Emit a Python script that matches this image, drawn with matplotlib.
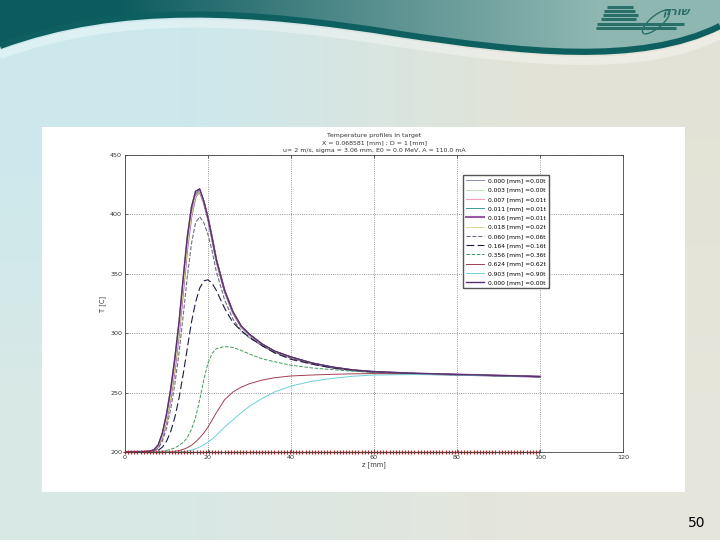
import numpy as np
import matplotlib
matplotlib.use("Agg")
import matplotlib.pyplot as plt
from matplotlib.path import Path
from matplotlib.patches import PathPatch, Rectangle, Ellipse

# ── data ──────────────────────────────────────────────────────────────────────
z = [0, 4, 6, 7, 8, 9, 10, 11, 12, 13, 14, 15, 16, 17, 18, 19, 20, 21, 22,
     24, 26, 28, 30, 33, 36, 40, 45, 50, 55, 60, 70, 80, 90, 100]

T_surf = [200, 200.2, 200.6, 202, 206, 216, 232, 253, 279, 309, 346, 381, 406,
          419.5, 421.5, 411, 397, 380, 362, 336, 318, 306, 299, 291, 285, 280,
          275, 271.5, 269, 267.6, 266.2, 265.3, 264.4, 263.5]
T_shallow = [200, 200.2, 200.5, 201.6, 205, 214, 229, 249, 274, 304, 341, 376,
             402, 417.5, 420.5, 411, 397, 380, 362, 336, 318, 306, 299, 291,
             285, 280, 275, 271.5, 269, 267.5, 266.1, 265.2, 264.3, 263.4]
T_near = [200, 200.2, 200.5, 201.4, 204.5, 213, 227, 246, 270, 300, 336, 372,
          399, 415, 419.5, 410, 396.5, 379.5, 361.5, 335.5, 317.5, 305.5,
          298.5, 290.5, 284.5, 279.5, 274.5, 271, 268.8, 267.4, 266, 265.1,
          264.3, 263.4]
T_060 = [200, 200.1, 200.3, 201, 203, 209, 220, 236, 257, 283, 314, 347, 375,
         393, 398, 393, 383, 369, 352, 328, 312, 302, 296, 289.5, 284, 279,
         274.5, 271, 268.8, 267.4, 266, 265.1, 264.2, 263.4]
T_164 = [200, 200, 200.2, 200.5, 201.5, 204, 209, 217, 229, 245, 265, 287, 309,
         326, 338, 344, 345, 342, 336, 321, 309, 302, 296.5, 289.5, 283.5, 278,
         274, 270.8, 268.7, 267.3, 265.9, 265, 264.2, 263.4]
T_356 = [200, 200, 200, 200.1, 200.3, 200.7, 201.3, 202.2, 203.5, 205.5, 208,
         212, 219, 229, 244, 261, 275, 283, 287, 288.8, 288, 285.5, 282.5,
         278.5, 276, 273, 270.8, 269.3, 268, 267, 265.8, 265, 264.2, 263.4]
T_624 = [200, 200, 200, 200, 200, 200, 200, 200.2, 200.6, 201.2, 202.2, 203.6,
         205.6, 208.5, 212, 216, 221, 227, 233, 244, 250.5, 254.5, 257.5,
         260.5, 262.5, 264, 264.8, 265.4, 265.8, 266, 265.6, 265, 264.2, 263.4]
T_903 = [200, 200, 200, 200, 200, 200, 200, 200, 200, 200, 200.3, 200.8, 201.6,
         202.7, 204.2, 206, 208.3, 211, 214, 221, 227, 233, 238.5, 245, 250.5,
         255.5, 259.5, 262, 263.8, 264.8, 265.2, 264.8, 264.1, 263.4]

# red '+' trace lying on the 200 C floor
z_floor = np.arange(0, 100.5, 0.75)
T_floor = 200.0

labels = ["0.000 [mm] =0.00t", "0.003 [mm] =0.00t", "0.007 [mm] =0.01t",
          "0.011 [mm] =0.01t", "0.016 [mm] =0.01t", "0.018 [mm] =0.02t",
          "0.060 [mm] =0.06t", "0.164 [mm] =0.16t", "0.356 [mm] =0.36t",
          "0.624 [mm] =0.62t", "0.903 [mm] =0.90t", "0.000 [mm] =0.00t"]
profiles = [T_surf, T_surf, T_shallow, T_shallow, T_near, T_near,
            T_060, T_164, T_356, T_624, T_903, T_surf]
colors = ["#8a8fb0", "#b8e6c0", "#f0a0b4", "#3a9aa0", "#9a5aa8", "#d8d890",
          "#6e6e80", "#1c1c48", "#3f9a5a", "#a04050", "#6fd0d8", "#5a3070"]
styles = ["-", "-", "-", "-", "-", "-", "--", (0, (7, 3)), "--", "-", "-", "-"]
widths = [0.7, 0.7, 0.8, 0.7, 1.5, 0.7, 0.8, 0.8, 0.7, 0.7, 0.7, 1.0]

title = ("Temperature profiles in target\n"
         "X = 0.068581 [mm] ; D = 1 [mm]\n"
         "u= 2 m/s, sigma = 3.06 mm, E0 = 0.0 MeV, A = 110.0 mA")

W, H = 720, 540
fig = plt.figure(figsize=(7.2, 5.4), dpi=100)

# ── slide background ──────────────────────────────────────────────────────────
bg = fig.add_axes([0, 0, 1, 1], zorder=-5)
bg.set_xlim(0, W); bg.set_ylim(H, 0); bg.axis("off")
grad = np.array([[[0.80, 0.91, 0.93], [0.89, 0.89, 0.84]],
                 [[0.85, 0.91, 0.90], [0.90, 0.90, 0.86]]])
bg.imshow(grad, extent=(0, W, H, 0), interpolation="bilinear", aspect="auto")

# header wave
wave = [(0, 46), (120, 2), (250, 10), (400, 34), (520, 52), (640, 66), (720, 26)]
codes = [Path.MOVETO, Path.CURVE4, Path.CURVE4, Path.CURVE4,
         Path.CURVE4, Path.CURVE4, Path.CURVE4]
head = Path(wave + [(720, 0), (0, 0), (0, 46)],
            codes + [Path.LINETO, Path.LINETO, Path.CLOSEPOLY])
hgrad = np.array([[[0.05, 0.36, 0.37], [0.33, 0.55, 0.55], [0.56, 0.72, 0.70]]])
img = bg.imshow(hgrad, extent=(0, W, 80, 0), interpolation="bilinear", aspect="auto")
img.set_clip_path(PathPatch(head, transform=bg.transData))
bg.add_patch(PathPatch(Path([(p[0], p[1] + 9) for p in wave], codes),
                       fill=False, ec="white", lw=6, alpha=0.35))
bg.add_patch(PathPatch(Path(wave, codes), fill=False, ec="#0e6060", lw=4.5))

# logo
for y0, x0, x1 in [(7, 607, 633), (11, 604, 635), (15, 603, 638), (19, 601, 636),
                   (24, 597, 684), (28, 596, 676)]:
    bg.plot([x0, x1], [y0, y0], color="#2a6f6a", lw=2.2, solid_capstyle="butt")
bg.add_patch(Ellipse((656, 22), 34, 12, angle=-40, fill=False, ec="#2a6f6a", lw=1))
bg.text(676, 12, "קרוש", fontsize=8, fontweight="bold", style="italic",
        color="#2a6f6a", ha="center", va="center")
bg.text(697, 523, "50", fontsize=10, ha="center", va="center", color="black")

# white picture frame of the chart
bg.add_patch(Rectangle((42, 127), 643, 365, fc="white", ec="none"))

# ── chart ─────────────────────────────────────────────────────────────────────
ax = fig.add_axes([125 / W, 1 - 452 / H, 498 / W, 297 / H])
for T, lab, c, ls, lw in zip(profiles, labels, colors, styles, widths):
    ax.plot(z, T, color=c, ls=ls, lw=lw, label=lab)
ax.plot(z_floor, np.full(len(z_floor), T_floor), color="#c81e1e", lw=0.8,
        ls="-", marker="+", ms=3.5, mew=0.8, clip_on=False)

ax.set_xlim(0, 120)
ax.set_ylim(200, 450)
ax.set_xticks(np.arange(0, 121, 20))
ax.set_yticks(np.arange(200, 451, 50))
ax.tick_params(direction="in", top=True, right=True, labelsize=4.6,
               length=2.5, width=0.5, colors="#333333", pad=2)
ax.grid(True, ls=":", lw=0.6, color="#777777")
for s in ax.spines.values():
    s.set_linewidth(0.6); s.set_color("#444444")
ax.set_xlabel("z [mm]", fontsize=4.8, labelpad=1, color="#333333")
ax.set_ylabel("T [C]", fontsize=4.8, labelpad=3, color="#333333")
ax.set_title(title, fontsize=4.5, pad=2, color="#333333", linespacing=1.65)

ax.legend(loc="upper left", bbox_to_anchor=(463 / W, 1 - 175 / H),
          bbox_transform=fig.transFigure, fontsize=4.3, handlelength=3.0,
          labelspacing=0.68, borderpad=0.55, borderaxespad=0, fancybox=False,
          edgecolor="#555555", framealpha=1, handletextpad=0.6)

fig.savefig("out.png", dpi=100)
